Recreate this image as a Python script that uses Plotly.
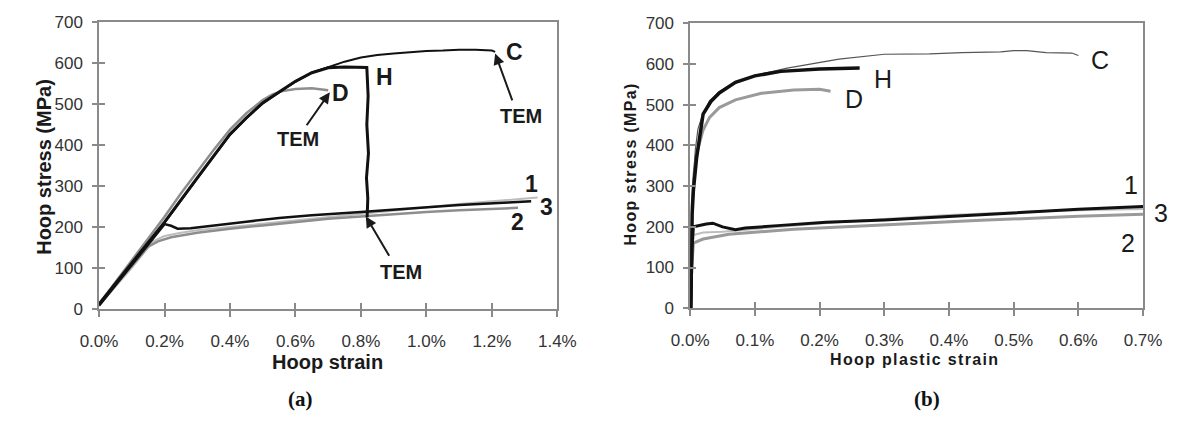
import plotly.graph_objects as go

# ---------------- panel (a): hoop stress vs hoop strain ----------------
a_C_strain = [0, 0.05, 0.1, 0.2, 0.3, 0.4, 0.45, 0.5, 0.55, 0.6, 0.65, 0.7, 0.75, 0.8,
              0.85, 0.9, 0.95, 1.0, 1.05, 1.1, 1.15, 1.2, 1.21]
a_C_stress = [10, 60, 110, 210, 318, 425, 465, 502, 529, 555, 577, 591, 604, 614,
              620, 624, 627, 630, 631, 633, 633, 631, 628]

a_H_strain = [0, 0.05, 0.1, 0.2, 0.3, 0.4, 0.45, 0.5, 0.55, 0.6, 0.65, 0.7, 0.75, 0.8,
              0.818, 0.822, 0.818, 0.823, 0.817, 0.821, 0.819]
a_H_stress = [12, 62, 112, 212, 320, 427, 467, 503, 530, 556, 577, 589, 591, 591,
              590, 520, 450, 380, 320, 270, 224]

a_D_strain = [0, 0.05, 0.1, 0.2, 0.25, 0.3, 0.35, 0.4, 0.45, 0.5, 0.53, 0.56, 0.6, 0.65,
              0.68, 0.7]
a_D_stress = [12, 65, 118, 225, 282, 336, 388, 438, 478, 510, 524, 532, 537, 539,
              536, 534]

a_1_strain = [0, 0.1, 0.165, 0.2, 0.25, 0.3, 0.4, 0.5, 0.6, 0.7, 0.8, 0.9, 1.0, 1.1,
              1.2, 1.3, 1.34]
a_1_stress = [8, 100, 165, 178, 186, 192, 200, 208, 217, 224, 232, 240, 248, 256,
              263, 270, 272]

a_2_strain = [0, 0.1, 0.15, 0.18, 0.22, 0.3, 0.4, 0.5, 0.6, 0.7, 0.8, 0.9, 1.0, 1.1,
              1.2, 1.28]
a_2_stress = [12, 105, 152, 165, 175, 186, 196, 204, 212, 220, 226, 232, 237, 241,
              245, 247]

a_3_strain = [0, 0.1, 0.2, 0.22, 0.24, 0.28, 0.35, 0.45, 0.55, 0.65, 0.8, 0.95, 1.1,
              1.25, 1.32]
a_3_stress = [8, 108, 207, 203, 196, 197, 203, 213, 222, 229, 237, 246, 254, 260, 263]

# ---------------- panel (b): hoop stress vs hoop plastic strain ----------------
b_C_strain = [0.001, 0.002, 0.004, 0.008, 0.012, 0.02, 0.03, 0.045, 0.07, 0.1, 0.15,
              0.2, 0.23, 0.3, 0.37, 0.42, 0.48, 0.5, 0.52, 0.55, 0.59, 0.6]
b_C_stress = [0, 200, 300, 390, 440, 480, 510, 532, 556, 572, 590, 603, 612, 624,
              625, 628, 630, 633, 633, 628, 627, 621]

b_H_strain = [0.001, 0.002, 0.003, 0.005, 0.01, 0.02, 0.032, 0.045, 0.07, 0.1, 0.14,
              0.2, 0.262]
b_H_stress = [0, 150, 230, 290, 370, 477, 508, 529, 555, 571, 582, 588, 590]

b_D_strain = [0.001, 0.003, 0.006, 0.01, 0.02, 0.03, 0.045, 0.07, 0.11, 0.16, 0.2, 0.217]
b_D_stress = [0, 250, 330, 380, 438, 469, 493, 512, 528, 536, 538, 533]

b_1_strain = [0.002, 0.005, 0.02, 0.05, 0.1, 0.2, 0.3, 0.4, 0.5, 0.6, 0.7]
b_1_stress = [100, 180, 186, 188, 195, 208, 219, 229, 236, 241, 244]

b_2_strain = [0.002, 0.005, 0.02, 0.06, 0.16, 0.3, 0.45, 0.6, 0.7]
b_2_stress = [90, 160, 170, 182, 194, 205, 216, 226, 231]

b_3_strain = [0.001, 0.003, 0.005, 0.015, 0.025, 0.035, 0.05, 0.07, 0.085, 0.135, 0.21,
              0.3, 0.4, 0.5, 0.6, 0.7]
b_3_stress = [0, 150, 200, 204, 207, 209, 200, 193, 197, 203, 211, 217, 226, 235, 243, 250]

stress_ticks = [0, 100, 200, 300, 400, 500, 600, 700]
a_strain_ticks = [0, 0.2, 0.4, 0.6, 0.8, 1.0, 1.2, 1.4]
b_strain_ticks = [0, 0.1, 0.2, 0.3, 0.4, 0.5, 0.6, 0.7]

SANS = "Liberation Sans, Arial, sans-serif"
SERIF = "Liberation Serif, Times New Roman, serif"
BLACK = "#111111"
GRAY = "#8e8e8e"
LIGHT = "#bdbdbd"
AXIS = "#8a8a8a"

W, H = 1193, 423

fig = go.Figure()


def line(x, y, color, width, xa, ya):
    fig.add_trace(go.Scatter(x=x, y=y, mode="lines", xaxis=xa, yaxis=ya,
                             line=dict(color=color, width=width),
                             hoverinfo="skip", showlegend=False))


# panel (a) curves (light ones first, dark on top)
line(a_1_strain, a_1_stress, LIGHT, 2, "x", "y")
line(a_2_strain, a_2_stress, GRAY, 2.5, "x", "y")
line(a_D_strain, a_D_stress, GRAY, 2.5, "x", "y")
line(a_C_strain, a_C_stress, BLACK, 2, "x", "y")
line(a_H_strain, a_H_stress, BLACK, 3, "x", "y")
line(a_3_strain, a_3_stress, BLACK, 2.5, "x", "y")

# panel (b) curves
line(b_1_strain, b_1_stress, LIGHT, 2, "x2", "y2")
line(b_2_strain, b_2_stress, "#9a9a9a", 3, "x2", "y2")
line(b_D_strain, b_D_stress, "#9a9a9a", 3, "x2", "y2")
line(b_C_strain, b_C_stress, "#555555", 1.2, "x2", "y2")
line(b_H_strain, b_H_stress, BLACK, 3.5, "x2", "y2")
line(b_3_strain, b_3_stress, BLACK, 3, "x2", "y2")

# empty traces so the tick-overlay axes get drawn
fig.add_trace(go.Scatter(x=[], y=[], xaxis="x3", yaxis="y3", showlegend=False))
fig.add_trace(go.Scatter(x=[], y=[], xaxis="x4", yaxis="y4", showlegend=False))

tickfont = dict(family=SANS, size=17, color="#333333")

dom_ax = [0.0693, 0.4661]
dom_bx = [0.5811, 0.9732]
dom_ay = [0.2577, 0.9669]
dom_by = [0.2593, 0.9645]


def main_x(dom, rng, ticks, anchor):
    return dict(domain=dom, range=rng, tickvals=ticks, ticktext=[f"{t:.1f}%" for t in ticks],
                showline=True, linecolor=AXIS, linewidth=1.5, mirror=True,
                ticks="outside", ticklen=6, tickwidth=1.5, tickcolor=AXIS,
                showgrid=False, zeroline=False, tickfont=tickfont, anchor=anchor,
                ticklabelstandoff=10, fixedrange=True)


def main_y(dom, ticks, anchor):
    return dict(domain=dom, range=[0, 700], tickvals=ticks,
                showline=True, linecolor=AXIS, linewidth=1.5, mirror=True,
                ticks="outside", ticklen=5, tickwidth=1.5, tickcolor=AXIS,
                showgrid=False, zeroline=False, tickfont=tickfont, anchor=anchor,
                ticklabelstandoff=6, fixedrange=True)


def over(base, dom, rng, ticks, anchor):
    return dict(overlaying=base, domain=dom, range=rng, tickvals=ticks, showticklabels=False,
                ticks="inside", ticklen=6, tickwidth=1.5, tickcolor=AXIS,
                showline=False, showgrid=False, zeroline=False, anchor=anchor, fixedrange=True)


fig.update_layout(
    width=W, height=H, autosize=False,
    margin=dict(l=0, r=0, t=0, b=0),
    paper_bgcolor="white", plot_bgcolor="white",
    xaxis=main_x(dom_ax, [0, 1.4], a_strain_ticks, "y"),
    yaxis=main_y(dom_ay, stress_ticks, "x"),
    xaxis2=main_x(dom_bx, [0, 0.7], b_strain_ticks, "y2"),
    yaxis2=main_y(dom_by, stress_ticks, "x2"),
    xaxis3=over("x", dom_ax, [0, 1.4], a_strain_ticks, "y3"),
    yaxis3=over("y", dom_ay, [0, 700], stress_ticks, "x3"),
    xaxis4=over("x2", dom_bx, [0, 0.7], b_strain_ticks, "y4"),
    yaxis4=over("y2", dom_by, [0, 700], stress_ticks, "x4"),
)


def spaced(s, sep="\u200a"):
    return sep.join(s)


ann = []
bold = dict(family=SANS, size=20, color="#1a1a1a")
small_bold = dict(family=SANS, size=16, color="#1a1a1a")
cap = dict(family=SERIF, size=21, color="#111111")
lab_b = dict(family=SANS, size=25, color="#1a1a1a")

# axis titles, panel captions and the label that sits past the (b) frame (pixel positions)
for text, px, py, angle, font in [
    ("<b>Hoop stress (MPa)</b>", 25, 165, -90, bold),
    ("<b>Hoop strain</b>", 319, 370, 0, bold),
    ("<b>" + spaced("Hoop stress (MPa)") + "</b>", 632, 163, -90, small_bold),
    ("<b>" + spaced("Hoop plastic strain") + "</b>", 924, 367, 0, small_bold),
    ("<b>(a)</b>", 291, 408, 0, cap),
    ("<b>(b)</b>", 938, 408, 0, cap),
    ("3", 1180, 214, 0, lab_b),
]:
    ann.append(dict(text=text, x=px / W, y=1 - py / H, xref="paper", yref="paper",
                    textangle=angle, font=font, showarrow=False,
                    xanchor="center", yanchor="middle"))

# curve labels, panel (a)
lab_a = dict(family=SANS, size=23, color="#1a1a1a")
tem = dict(family=SANS, size=20, color="#1a1a1a")
for txt, x, y, f in [("C", 1.27, 627, lab_a), ("H", 0.871, 566, lab_a), ("D", 0.738, 527, lab_a),
                     ("1", 1.32, 305, lab_a), ("3", 1.368, 249, lab_a), ("2", 1.279, 212, lab_a),
                     ("TEM", 1.29, 471, tem), ("TEM", 0.607, 415, tem), ("TEM", 0.922, 89, tem)]:
    ann.append(dict(text=f"<b>{txt}</b>", x=x, y=y, xref="x", yref="y", showarrow=False,
                    font=f, xanchor="center", yanchor="middle"))

# arrows pointing at the TEM sampling points
for tip_x, tip_y, tail_x, tail_y in [(1.21, 624, 1.264, 506), (0.705, 529, 0.631, 445),
                                     (0.815, 226, 0.889, 126)]:
    ann.append(dict(text="", x=tip_x, y=tip_y, ax=tail_x, ay=tail_y, xref="x", yref="y",
                    axref="x", ayref="y", showarrow=True, arrowhead=2, arrowsize=1.1,
                    arrowwidth=2, arrowcolor="#1a1a1a"))

# curve labels, panel (b)
for txt, x, y in [("C", 0.633, 609), ("H", 0.298, 564), ("D", 0.253, 514),
                  ("1", 0.682, 303), ("2", 0.677, 160)]:
    ann.append(dict(text=txt, x=x, y=y, xref="x2", yref="y2", showarrow=False,
                    font=lab_b, xanchor="center", yanchor="middle"))

fig.update_layout(annotations=ann)

fig.write_html("out.html", config={"displayModeBar": False})
